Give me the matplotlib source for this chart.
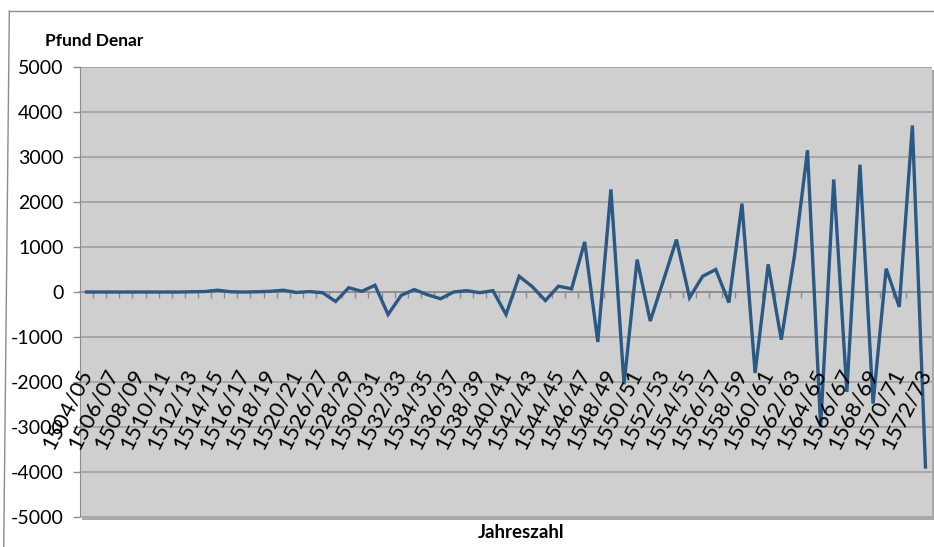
import matplotlib
matplotlib.use("Agg")
import matplotlib.pyplot as plt
from matplotlib.lines import Line2D
from matplotlib.patches import Rectangle

# Kategorien (Rechnungsjahre), 1522/23-1525/26 fehlen
start_years = list(range(1504, 1522)) + list(range(1526, 1573))
years = [f"{y}/{(y + 1) % 100:02d}" for y in start_years]

# Saldo in Pfund Denar
values = [0, 0, 0, 0, 0, 0, 0, 0, 5, 10,
          40, 5, 0, 5, 15, 40, -10, 10, -15, -210,
          95, 15, 150, -500, -75, 55, -60, -150, 0, 30,
          -15, 30, -500, 350, 120, -190, 130, 70, 1115, -1110,
          2280, -2050, 720, -645, 250, 1165, -125, 350, 500, -235,
          1965, -1800, 615, -1060, 800, 3150, -3000, 2500, -2220, 2830,
          -2480, 520, -330, 3700, -3890]

yticks = list(range(-5000, 5001, 1000))


def main():
    plt.rcParams['font.family'] = ['Lato', 'DejaVu Sans']
    fig = plt.figure(figsize=(9.34, 5.47), dpi=100)
    fig.patch.set_facecolor("white")

    ax = fig.add_axes([0.0857, 0.0548, 0.9122, 0.8227])

    # shadow of the plot area
    fig.patches.append(Rectangle((0.0857 + 0.002, 0.0548 - 0.005), 0.9122, 0.8227,
                                 transform=fig.transFigure, facecolor="#a8a8a8",
                                 edgecolor="none", zorder=-2))
    ax.set_facecolor("#d0cfcf")

    x = list(range(len(years)))
    ax.plot(x, values, color="#2a5985", lw=2.4, solid_joinstyle="miter", zorder=3)

    ax.set_xlim(-0.5, len(years) - 0.5)
    ax.set_ylim(-5000, 5000)
    ax.set_yticks(yticks)
    ax.set_yticklabels([str(v) for v in yticks], fontsize=14)
    ax.grid(axis="y", color="#9c9c9c", lw=1.1)
    ax.set_axisbelow(True)

    ax.spines["top"].set_visible(False)
    ax.spines["right"].set_visible(False)
    ax.spines["left"].set_color("#8c8c8c")
    ax.spines["bottom"].set_position(("data", 0))
    ax.spines["bottom"].set_color("#8c8c8c")
    ax.spines["bottom"].set_linewidth(1.2)
    ax.spines["bottom"].set_zorder(2)

    ax.set_xticks([i + 0.5 for i in range(len(years) - 1)])
    ax.set_xticklabels([])
    ax.tick_params(axis="x", direction="out", length=4, color="#8c8c8c", width=1)
    ax.tick_params(axis="y", direction="out", length=5, color="#8c8c8c", width=1, pad=7)

    for i, lab in enumerate(years):
        if i % 2 == 0:
            ax.text(i + 0.02, -1740, lab, rotation=63, rotation_mode="anchor",
                    ha="right", va="center", fontsize=16, zorder=4)

    fig.text(0.048, 0.925, "Pfund Denar", fontsize=12.5, fontweight="bold",
             ha="left", va="center")
    fig.text(0.558, 0.026, "Jahreszahl", fontsize=13.5, fontweight="bold",
             ha="center", va="center")

    # chart frame
    fig.add_artist(Line2D([0.010, 1.0], [0.980, 0.980], color="#8c8c8c", lw=1,
                          transform=fig.transFigure))
    fig.add_artist(Line2D([0.010, 0.004], [0.980, 0.0], color="#8c8c8c", lw=1,
                          transform=fig.transFigure))

    fig.savefig("out.png", dpi=100)


if __name__ == '__main__':
    main()
